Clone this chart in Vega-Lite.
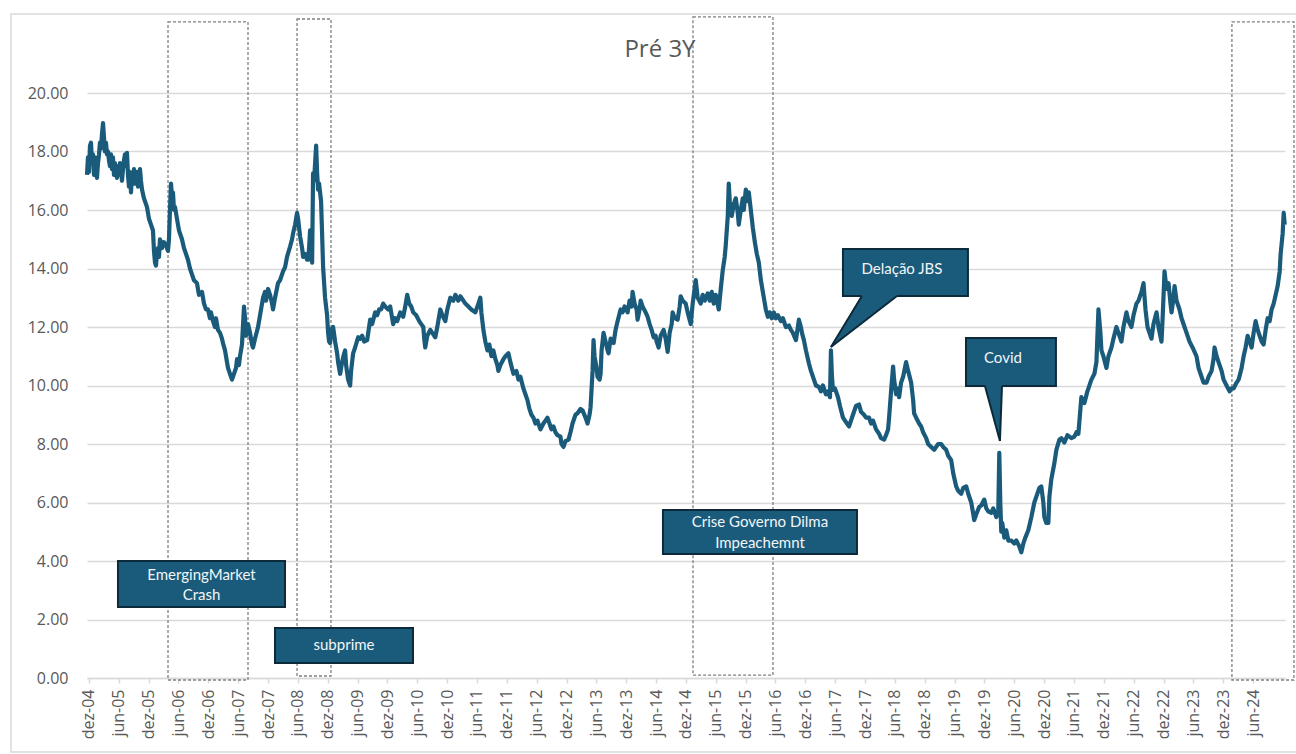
{
  "$schema": "https://vega.github.io/schema/vega-lite/v6.json",
  "width": 1198,
  "height": 585,
  "autosize": {"type": "none"},
  "padding": {"left": 87, "top": 93, "right": 11, "bottom": 76},
  "background": "white",
  "config": {"view": {"stroke": null}, "font": "Open Sans"},
  "datasets": {
    "frame": [{"t": 2003.609, "t2": 2026.5, "v": 22.7, "v2": -2.53}],
    "boxes": [
      {"t": 2006.239, "t2": 2007.579, "v": 22.43, "v2": -0.068},
      {"t": 2008.400, "t2": 2008.969, "v": 22.53, "v2": 0.068},
      {"t": 2015.033, "t2": 2016.373, "v": 22.6, "v2": 0.10},
      {"t": 2024.061, "t2": 2025.100, "v": 22.43, "v2": -0.068}
    ],
    "callouts": [
      {"t": 2005.401, "t2": 2008.199, "v": 4.0, "v2": 2.427},
      {"t": 2008.031, "t2": 2010.343, "v": 1.709, "v2": 0.513},
      {"t": 2014.530, "t2": 2017.780, "v": 5.744, "v2": 4.239},
      {"t": 2017.545, "t2": 2019.639, "v": 14.667, "v2": 13.06},
      {"t": 2019.606, "t2": 2021.113, "v": 11.624, "v2": 9.983}
    ],
    "wedgeArea": [
      {"grp": "jbs", "t": 2017.344, "v": 11.316, "v2": 11.316},
      {"grp": "jbs", "t": 2017.864, "v": 13.12, "v2": 12.135},
      {"grp": "jbs", "t": 2018.450, "v": 13.12, "v2": 13.06},
      {"grp": "cov", "t": 2019.924, "v": 10.05, "v2": 9.983},
      {"grp": "cov", "t": 2020.175, "v": 10.05, "v2": 8.103},
      {"grp": "cov", "t": 2020.209, "v": 10.05, "v2": 9.983}
    ],
    "wedgeLine": [
      {"grp": "j1", "t": 2017.864, "v": 13.06},
      {"grp": "j1", "t": 2017.344, "v": 11.316},
      {"grp": "j2", "t": 2018.450, "v": 13.06},
      {"grp": "j2", "t": 2017.344, "v": 11.316},
      {"grp": "c1", "t": 2019.924, "v": 9.983},
      {"grp": "c1", "t": 2020.175, "v": 8.103},
      {"grp": "c2", "t": 2020.209, "v": 9.983},
      {"grp": "c2", "t": 2020.175, "v": 8.103}
    ],
    "notes": [
      {"t": 2006.800, "v": 3.52, "label": "EmergingMarket"},
      {"t": 2006.800, "v": 2.84, "label": "Crash"},
      {"t": 2009.187, "v": 1.128, "label": "subprime"},
      {"t": 2016.155, "v": 5.333, "label": "Crise Governo Dilma"},
      {"t": 2016.155, "v": 4.615, "label": "Impeachemnt"},
      {"t": 2018.534, "v": 13.983, "label": "Delação JBS"},
      {"t": 2020.225, "v": 10.94, "label": "Covid"}
    ],
    "heading": [{"t": 2014.48, "v": 21.47, "label": "Pré 3Y"}],
    "series": [
      {"t": 2004.882, "v": 17.2}, {"t": 2004.898, "v": 17.8}, {"t": 2004.915, "v": 17.3}, {"t": 2004.932, "v": 18.2},
      {"t": 2004.949, "v": 18.3}, {"t": 2004.965, "v": 17.6}, {"t": 2004.982, "v": 17.9}, {"t": 2004.999, "v": 17.2},
      {"t": 2005.016, "v": 17.8}, {"t": 2005.032, "v": 17.4}, {"t": 2005.049, "v": 17.1}, {"t": 2005.066, "v": 17.6},
      {"t": 2005.083, "v": 17.9}, {"t": 2005.099, "v": 18.3}, {"t": 2005.116, "v": 18.1}, {"t": 2005.133, "v": 18.6},
      {"t": 2005.150, "v": 18.97}, {"t": 2005.166, "v": 18.5}, {"t": 2005.183, "v": 18.0}, {"t": 2005.200, "v": 18.3},
      {"t": 2005.217, "v": 17.9}, {"t": 2005.234, "v": 18.0}, {"t": 2005.250, "v": 17.7}, {"t": 2005.267, "v": 17.5},
      {"t": 2005.284, "v": 17.9}, {"t": 2005.301, "v": 17.4}, {"t": 2005.317, "v": 17.8}, {"t": 2005.334, "v": 17.2},
      {"t": 2005.351, "v": 17.6}, {"t": 2005.367, "v": 17.3}, {"t": 2005.384, "v": 17.1}, {"t": 2005.401, "v": 17.5},
      {"t": 2005.418, "v": 17.2}, {"t": 2005.434, "v": 17.6}, {"t": 2005.451, "v": 17.4}, {"t": 2005.468, "v": 17.0},
      {"t": 2005.485, "v": 17.4}, {"t": 2005.501, "v": 17.7}, {"t": 2005.518, "v": 17.9}, {"t": 2005.535, "v": 17.5},
      {"t": 2005.552, "v": 17.95}, {"t": 2005.568, "v": 17.2}, {"t": 2005.585, "v": 16.8}, {"t": 2005.602, "v": 17.3},
      {"t": 2005.619, "v": 16.6}, {"t": 2005.635, "v": 17.2}, {"t": 2005.652, "v": 17.0}, {"t": 2005.669, "v": 17.4},
      {"t": 2005.686, "v": 16.9}, {"t": 2005.702, "v": 17.1}, {"t": 2005.719, "v": 17.3}, {"t": 2005.736, "v": 16.8},
      {"t": 2005.753, "v": 17.2}, {"t": 2005.769, "v": 17.4}, {"t": 2005.786, "v": 17.0}, {"t": 2005.803, "v": 16.7},
      {"t": 2005.836, "v": 16.4}, {"t": 2005.887, "v": 16.1}, {"t": 2005.920, "v": 15.7}, {"t": 2005.954, "v": 15.5},
      {"t": 2005.987, "v": 15.3}, {"t": 2006.004, "v": 14.6}, {"t": 2006.021, "v": 14.2}, {"t": 2006.037, "v": 14.1},
      {"t": 2006.054, "v": 14.5}, {"t": 2006.071, "v": 14.7}, {"t": 2006.088, "v": 14.4}, {"t": 2006.104, "v": 15.0},
      {"t": 2006.138, "v": 14.7}, {"t": 2006.171, "v": 14.9}, {"t": 2006.205, "v": 14.8}, {"t": 2006.238, "v": 14.6},
      {"t": 2006.255, "v": 15.0}, {"t": 2006.272, "v": 16.0}, {"t": 2006.289, "v": 16.9}, {"t": 2006.305, "v": 16.5},
      {"t": 2006.322, "v": 16.6}, {"t": 2006.339, "v": 16.0}, {"t": 2006.356, "v": 16.1}, {"t": 2006.389, "v": 15.7},
      {"t": 2006.423, "v": 15.3}, {"t": 2006.473, "v": 15.0}, {"t": 2006.506, "v": 14.7}, {"t": 2006.540, "v": 14.5},
      {"t": 2006.573, "v": 14.3}, {"t": 2006.607, "v": 14.0}, {"t": 2006.640, "v": 13.8}, {"t": 2006.674, "v": 13.6},
      {"t": 2006.724, "v": 13.5}, {"t": 2006.758, "v": 13.1}, {"t": 2006.808, "v": 13.2}, {"t": 2006.842, "v": 12.8},
      {"t": 2006.875, "v": 12.6}, {"t": 2006.909, "v": 12.6}, {"t": 2006.942, "v": 12.3}, {"t": 2006.959, "v": 12.5},
      {"t": 2006.993, "v": 12.2}, {"t": 2007.026, "v": 12.0}, {"t": 2007.043, "v": 12.3}, {"t": 2007.076, "v": 11.9},
      {"t": 2007.110, "v": 11.8}, {"t": 2007.143, "v": 11.6}, {"t": 2007.160, "v": 11.45}, {"t": 2007.194, "v": 11.2},
      {"t": 2007.227, "v": 10.8}, {"t": 2007.244, "v": 10.6}, {"t": 2007.277, "v": 10.4}, {"t": 2007.311, "v": 10.2},
      {"t": 2007.344, "v": 10.4}, {"t": 2007.378, "v": 10.6}, {"t": 2007.395, "v": 10.9}, {"t": 2007.428, "v": 10.7},
      {"t": 2007.445, "v": 11.0}, {"t": 2007.478, "v": 11.4}, {"t": 2007.512, "v": 12.7}, {"t": 2007.529, "v": 12.3},
      {"t": 2007.546, "v": 11.7}, {"t": 2007.579, "v": 12.1}, {"t": 2007.613, "v": 11.8}, {"t": 2007.646, "v": 11.4},
      {"t": 2007.663, "v": 11.3}, {"t": 2007.696, "v": 11.6}, {"t": 2007.747, "v": 12.0}, {"t": 2007.780, "v": 12.4},
      {"t": 2007.831, "v": 13.0}, {"t": 2007.864, "v": 13.2}, {"t": 2007.881, "v": 12.9}, {"t": 2007.915, "v": 13.3},
      {"t": 2007.948, "v": 13.1}, {"t": 2007.982, "v": 12.8}, {"t": 2007.998, "v": 12.6}, {"t": 2008.032, "v": 13.0},
      {"t": 2008.082, "v": 13.5}, {"t": 2008.116, "v": 13.6}, {"t": 2008.166, "v": 13.9}, {"t": 2008.200, "v": 14.05},
      {"t": 2008.233, "v": 14.4}, {"t": 2008.284, "v": 14.75}, {"t": 2008.317, "v": 15.0}, {"t": 2008.334, "v": 15.2},
      {"t": 2008.368, "v": 15.5}, {"t": 2008.401, "v": 15.9}, {"t": 2008.418, "v": 15.7}, {"t": 2008.451, "v": 15.1},
      {"t": 2008.485, "v": 14.7}, {"t": 2008.502, "v": 14.4}, {"t": 2008.535, "v": 14.5}, {"t": 2008.569, "v": 14.3},
      {"t": 2008.586, "v": 14.3}, {"t": 2008.602, "v": 14.7}, {"t": 2008.619, "v": 15.3}, {"t": 2008.636, "v": 14.6},
      {"t": 2008.653, "v": 14.2}, {"t": 2008.669, "v": 17.25}, {"t": 2008.686, "v": 17.0}, {"t": 2008.703, "v": 17.6},
      {"t": 2008.720, "v": 18.2}, {"t": 2008.736, "v": 17.3}, {"t": 2008.753, "v": 16.7}, {"t": 2008.770, "v": 16.9},
      {"t": 2008.803, "v": 16.3}, {"t": 2008.820, "v": 15.2}, {"t": 2008.837, "v": 14.05}, {"t": 2008.854, "v": 13.5},
      {"t": 2008.870, "v": 13.0}, {"t": 2008.904, "v": 12.4}, {"t": 2008.921, "v": 11.8}, {"t": 2008.937, "v": 11.5},
      {"t": 2008.954, "v": 11.45}, {"t": 2008.971, "v": 11.9}, {"t": 2009.005, "v": 12.0}, {"t": 2009.038, "v": 11.5},
      {"t": 2009.072, "v": 11.1}, {"t": 2009.088, "v": 10.8}, {"t": 2009.122, "v": 10.4}, {"t": 2009.155, "v": 10.8},
      {"t": 2009.189, "v": 11.1}, {"t": 2009.206, "v": 11.2}, {"t": 2009.222, "v": 10.7}, {"t": 2009.256, "v": 10.2},
      {"t": 2009.290, "v": 10.0}, {"t": 2009.306, "v": 10.5}, {"t": 2009.340, "v": 11.1}, {"t": 2009.373, "v": 11.3},
      {"t": 2009.424, "v": 11.65}, {"t": 2009.457, "v": 11.6}, {"t": 2009.491, "v": 11.7}, {"t": 2009.524, "v": 11.5},
      {"t": 2009.575, "v": 11.55}, {"t": 2009.625, "v": 12.25}, {"t": 2009.659, "v": 12.1}, {"t": 2009.709, "v": 12.5},
      {"t": 2009.743, "v": 12.4}, {"t": 2009.776, "v": 12.6}, {"t": 2009.810, "v": 12.6}, {"t": 2009.843, "v": 12.8},
      {"t": 2009.877, "v": 12.7}, {"t": 2009.927, "v": 12.6}, {"t": 2009.961, "v": 12.7}, {"t": 2009.994, "v": 12.3},
      {"t": 2010.011, "v": 12.1}, {"t": 2010.045, "v": 12.3}, {"t": 2010.078, "v": 12.2}, {"t": 2010.129, "v": 12.5},
      {"t": 2010.179, "v": 12.35}, {"t": 2010.213, "v": 12.7}, {"t": 2010.246, "v": 13.1}, {"t": 2010.280, "v": 12.8},
      {"t": 2010.313, "v": 12.7}, {"t": 2010.347, "v": 12.5}, {"t": 2010.397, "v": 12.4}, {"t": 2010.447, "v": 12.2},
      {"t": 2010.481, "v": 12.1}, {"t": 2010.515, "v": 12.0}, {"t": 2010.531, "v": 11.6}, {"t": 2010.548, "v": 11.3},
      {"t": 2010.582, "v": 11.7}, {"t": 2010.632, "v": 11.9}, {"t": 2010.666, "v": 11.8}, {"t": 2010.716, "v": 11.65},
      {"t": 2010.750, "v": 12.0}, {"t": 2010.800, "v": 12.6}, {"t": 2010.834, "v": 12.4}, {"t": 2010.884, "v": 12.2},
      {"t": 2010.918, "v": 12.6}, {"t": 2010.968, "v": 13.0}, {"t": 2011.018, "v": 12.9}, {"t": 2011.052, "v": 13.1},
      {"t": 2011.102, "v": 12.9}, {"t": 2011.136, "v": 13.05}, {"t": 2011.186, "v": 12.9}, {"t": 2011.220, "v": 12.8},
      {"t": 2011.270, "v": 12.7}, {"t": 2011.320, "v": 12.6}, {"t": 2011.387, "v": 12.5}, {"t": 2011.438, "v": 12.8},
      {"t": 2011.471, "v": 13.0}, {"t": 2011.488, "v": 12.5}, {"t": 2011.522, "v": 11.9}, {"t": 2011.555, "v": 11.5},
      {"t": 2011.589, "v": 11.2}, {"t": 2011.622, "v": 11.4}, {"t": 2011.656, "v": 11.0}, {"t": 2011.689, "v": 11.2},
      {"t": 2011.723, "v": 10.9}, {"t": 2011.756, "v": 10.7}, {"t": 2011.773, "v": 10.5}, {"t": 2011.807, "v": 10.7},
      {"t": 2011.857, "v": 10.9}, {"t": 2011.891, "v": 11.0}, {"t": 2011.941, "v": 11.1}, {"t": 2011.974, "v": 10.8},
      {"t": 2012.025, "v": 10.4}, {"t": 2012.075, "v": 10.5}, {"t": 2012.109, "v": 10.2}, {"t": 2012.142, "v": 10.3},
      {"t": 2012.192, "v": 9.9}, {"t": 2012.226, "v": 9.7}, {"t": 2012.260, "v": 9.5}, {"t": 2012.293, "v": 9.2},
      {"t": 2012.327, "v": 9.0}, {"t": 2012.360, "v": 8.9}, {"t": 2012.394, "v": 8.7}, {"t": 2012.427, "v": 8.8},
      {"t": 2012.478, "v": 8.5}, {"t": 2012.528, "v": 8.7}, {"t": 2012.562, "v": 8.8}, {"t": 2012.595, "v": 8.9},
      {"t": 2012.629, "v": 8.7}, {"t": 2012.662, "v": 8.5}, {"t": 2012.696, "v": 8.6}, {"t": 2012.729, "v": 8.4},
      {"t": 2012.763, "v": 8.3}, {"t": 2012.813, "v": 8.25}, {"t": 2012.830, "v": 8.0}, {"t": 2012.864, "v": 7.9},
      {"t": 2012.897, "v": 8.1}, {"t": 2012.948, "v": 8.15}, {"t": 2012.981, "v": 8.4}, {"t": 2013.015, "v": 8.7},
      {"t": 2013.065, "v": 9.0}, {"t": 2013.099, "v": 9.05}, {"t": 2013.149, "v": 9.2}, {"t": 2013.183, "v": 9.15},
      {"t": 2013.233, "v": 8.9}, {"t": 2013.267, "v": 8.7}, {"t": 2013.300, "v": 9.0}, {"t": 2013.317, "v": 9.25},
      {"t": 2013.351, "v": 10.5}, {"t": 2013.367, "v": 11.55}, {"t": 2013.384, "v": 11.0}, {"t": 2013.418, "v": 10.6},
      {"t": 2013.434, "v": 10.3}, {"t": 2013.468, "v": 10.2}, {"t": 2013.485, "v": 10.4}, {"t": 2013.502, "v": 11.2},
      {"t": 2013.535, "v": 11.8}, {"t": 2013.569, "v": 11.5}, {"t": 2013.602, "v": 11.2}, {"t": 2013.619, "v": 11.1},
      {"t": 2013.653, "v": 11.6}, {"t": 2013.703, "v": 11.45}, {"t": 2013.736, "v": 11.9}, {"t": 2013.770, "v": 12.2},
      {"t": 2013.820, "v": 12.6}, {"t": 2013.854, "v": 12.5}, {"t": 2013.887, "v": 12.7}, {"t": 2013.938, "v": 12.5},
      {"t": 2013.971, "v": 12.9}, {"t": 2014.005, "v": 12.7}, {"t": 2014.021, "v": 13.2}, {"t": 2014.055, "v": 12.8},
      {"t": 2014.089, "v": 12.6}, {"t": 2014.105, "v": 12.25}, {"t": 2014.139, "v": 12.6}, {"t": 2014.156, "v": 12.9},
      {"t": 2014.189, "v": 12.7}, {"t": 2014.240, "v": 12.5}, {"t": 2014.273, "v": 12.35}, {"t": 2014.307, "v": 12.1},
      {"t": 2014.340, "v": 11.9}, {"t": 2014.374, "v": 11.65}, {"t": 2014.407, "v": 11.7}, {"t": 2014.424, "v": 11.5},
      {"t": 2014.458, "v": 11.3}, {"t": 2014.491, "v": 11.7}, {"t": 2014.541, "v": 11.9}, {"t": 2014.575, "v": 11.6},
      {"t": 2014.609, "v": 11.15}, {"t": 2014.642, "v": 11.8}, {"t": 2014.676, "v": 12.1}, {"t": 2014.692, "v": 12.5},
      {"t": 2014.726, "v": 12.3}, {"t": 2014.776, "v": 12.25}, {"t": 2014.810, "v": 12.7}, {"t": 2014.827, "v": 13.05},
      {"t": 2014.860, "v": 12.9}, {"t": 2014.911, "v": 12.8}, {"t": 2014.944, "v": 12.5}, {"t": 2014.995, "v": 12.1},
      {"t": 2015.028, "v": 12.8}, {"t": 2015.079, "v": 13.6}, {"t": 2015.112, "v": 13.0}, {"t": 2015.163, "v": 12.8},
      {"t": 2015.196, "v": 13.1}, {"t": 2015.230, "v": 12.9}, {"t": 2015.280, "v": 13.15}, {"t": 2015.314, "v": 12.9},
      {"t": 2015.347, "v": 13.2}, {"t": 2015.381, "v": 12.8}, {"t": 2015.414, "v": 13.1}, {"t": 2015.465, "v": 12.6},
      {"t": 2015.498, "v": 13.3}, {"t": 2015.532, "v": 13.95}, {"t": 2015.565, "v": 14.4}, {"t": 2015.582, "v": 14.8},
      {"t": 2015.616, "v": 15.8}, {"t": 2015.632, "v": 16.9}, {"t": 2015.649, "v": 16.3}, {"t": 2015.683, "v": 15.8},
      {"t": 2015.716, "v": 16.2}, {"t": 2015.750, "v": 16.4}, {"t": 2015.783, "v": 15.9}, {"t": 2015.800, "v": 15.5},
      {"t": 2015.834, "v": 16.0}, {"t": 2015.867, "v": 16.4}, {"t": 2015.884, "v": 16.0}, {"t": 2015.918, "v": 16.7},
      {"t": 2015.951, "v": 16.3}, {"t": 2015.968, "v": 16.6}, {"t": 2016.002, "v": 16.0}, {"t": 2016.035, "v": 15.4},
      {"t": 2016.069, "v": 14.9}, {"t": 2016.102, "v": 14.5}, {"t": 2016.136, "v": 14.2}, {"t": 2016.170, "v": 13.6},
      {"t": 2016.203, "v": 13.2}, {"t": 2016.220, "v": 13.0}, {"t": 2016.253, "v": 12.6}, {"t": 2016.287, "v": 12.35},
      {"t": 2016.321, "v": 12.5}, {"t": 2016.354, "v": 12.3}, {"t": 2016.388, "v": 12.5}, {"t": 2016.421, "v": 12.3},
      {"t": 2016.455, "v": 12.4}, {"t": 2016.505, "v": 12.2}, {"t": 2016.539, "v": 12.3}, {"t": 2016.589, "v": 12.0},
      {"t": 2016.639, "v": 12.05}, {"t": 2016.673, "v": 11.9}, {"t": 2016.707, "v": 11.8}, {"t": 2016.757, "v": 11.55},
      {"t": 2016.790, "v": 12.0}, {"t": 2016.807, "v": 12.25}, {"t": 2016.841, "v": 12.0}, {"t": 2016.858, "v": 11.8},
      {"t": 2016.891, "v": 11.55}, {"t": 2016.925, "v": 11.2}, {"t": 2016.975, "v": 10.75}, {"t": 2017.009, "v": 10.5},
      {"t": 2017.059, "v": 10.2}, {"t": 2017.093, "v": 10.0}, {"t": 2017.143, "v": 9.95}, {"t": 2017.177, "v": 9.8},
      {"t": 2017.210, "v": 10.0}, {"t": 2017.260, "v": 9.7}, {"t": 2017.294, "v": 9.8}, {"t": 2017.328, "v": 9.6},
      {"t": 2017.344, "v": 11.2}, {"t": 2017.361, "v": 10.3}, {"t": 2017.378, "v": 9.85}, {"t": 2017.411, "v": 9.9},
      {"t": 2017.462, "v": 9.6}, {"t": 2017.495, "v": 9.3}, {"t": 2017.546, "v": 8.9}, {"t": 2017.579, "v": 8.8},
      {"t": 2017.613, "v": 8.7}, {"t": 2017.646, "v": 8.6}, {"t": 2017.680, "v": 8.8}, {"t": 2017.713, "v": 9.0},
      {"t": 2017.764, "v": 9.3}, {"t": 2017.814, "v": 9.35}, {"t": 2017.848, "v": 9.1}, {"t": 2017.898, "v": 9.0},
      {"t": 2017.932, "v": 8.9}, {"t": 2017.982, "v": 8.9}, {"t": 2018.016, "v": 8.7}, {"t": 2018.049, "v": 8.8},
      {"t": 2018.100, "v": 8.5}, {"t": 2018.150, "v": 8.35}, {"t": 2018.183, "v": 8.2}, {"t": 2018.234, "v": 8.15},
      {"t": 2018.267, "v": 8.3}, {"t": 2018.301, "v": 8.5}, {"t": 2018.318, "v": 8.9}, {"t": 2018.351, "v": 9.8},
      {"t": 2018.385, "v": 10.65}, {"t": 2018.402, "v": 10.2}, {"t": 2018.435, "v": 9.7}, {"t": 2018.469, "v": 9.9},
      {"t": 2018.486, "v": 9.6}, {"t": 2018.519, "v": 10.1}, {"t": 2018.553, "v": 10.3}, {"t": 2018.603, "v": 10.8},
      {"t": 2018.637, "v": 10.5}, {"t": 2018.687, "v": 10.1}, {"t": 2018.721, "v": 9.5}, {"t": 2018.737, "v": 9.05},
      {"t": 2018.771, "v": 8.9}, {"t": 2018.821, "v": 8.7}, {"t": 2018.855, "v": 8.6}, {"t": 2018.888, "v": 8.4},
      {"t": 2018.939, "v": 8.2}, {"t": 2018.972, "v": 8.0}, {"t": 2019.023, "v": 7.9}, {"t": 2019.073, "v": 7.8},
      {"t": 2019.107, "v": 7.9}, {"t": 2019.140, "v": 8.0}, {"t": 2019.190, "v": 8.0}, {"t": 2019.224, "v": 7.9},
      {"t": 2019.274, "v": 7.8}, {"t": 2019.308, "v": 7.6}, {"t": 2019.358, "v": 7.45}, {"t": 2019.392, "v": 7.0},
      {"t": 2019.442, "v": 6.55}, {"t": 2019.476, "v": 6.4}, {"t": 2019.526, "v": 6.3}, {"t": 2019.560, "v": 6.5},
      {"t": 2019.610, "v": 6.55}, {"t": 2019.644, "v": 6.3}, {"t": 2019.694, "v": 6.0}, {"t": 2019.728, "v": 5.6},
      {"t": 2019.744, "v": 5.4}, {"t": 2019.778, "v": 5.6}, {"t": 2019.828, "v": 5.85}, {"t": 2019.862, "v": 5.9},
      {"t": 2019.912, "v": 6.1}, {"t": 2019.946, "v": 5.8}, {"t": 2019.979, "v": 5.7}, {"t": 2020.030, "v": 5.65},
      {"t": 2020.063, "v": 5.8}, {"t": 2020.114, "v": 5.5}, {"t": 2020.147, "v": 5.7}, {"t": 2020.164, "v": 7.7},
      {"t": 2020.181, "v": 6.0}, {"t": 2020.197, "v": 5.0}, {"t": 2020.214, "v": 5.3}, {"t": 2020.248, "v": 4.8},
      {"t": 2020.281, "v": 5.05}, {"t": 2020.315, "v": 4.7}, {"t": 2020.365, "v": 4.7}, {"t": 2020.415, "v": 4.6},
      {"t": 2020.449, "v": 4.7}, {"t": 2020.499, "v": 4.5}, {"t": 2020.533, "v": 4.3}, {"t": 2020.567, "v": 4.6},
      {"t": 2020.600, "v": 4.8}, {"t": 2020.650, "v": 5.05}, {"t": 2020.701, "v": 5.5}, {"t": 2020.751, "v": 6.0},
      {"t": 2020.785, "v": 6.2}, {"t": 2020.835, "v": 6.5}, {"t": 2020.868, "v": 6.55}, {"t": 2020.902, "v": 6.0},
      {"t": 2020.919, "v": 5.5}, {"t": 2020.952, "v": 5.3}, {"t": 2020.986, "v": 5.3}, {"t": 2021.003, "v": 6.2},
      {"t": 2021.036, "v": 6.8}, {"t": 2021.087, "v": 7.35}, {"t": 2021.120, "v": 7.8}, {"t": 2021.171, "v": 8.15},
      {"t": 2021.204, "v": 8.2}, {"t": 2021.254, "v": 8.05}, {"t": 2021.305, "v": 8.3}, {"t": 2021.372, "v": 8.2},
      {"t": 2021.422, "v": 8.25}, {"t": 2021.456, "v": 8.4}, {"t": 2021.489, "v": 8.35}, {"t": 2021.539, "v": 9.6},
      {"t": 2021.590, "v": 9.4}, {"t": 2021.640, "v": 9.8}, {"t": 2021.707, "v": 10.2}, {"t": 2021.757, "v": 10.4},
      {"t": 2021.791, "v": 10.8}, {"t": 2021.825, "v": 12.6}, {"t": 2021.858, "v": 11.8}, {"t": 2021.875, "v": 11.2},
      {"t": 2021.908, "v": 11.0}, {"t": 2021.959, "v": 10.6}, {"t": 2021.992, "v": 11.0}, {"t": 2022.043, "v": 11.3},
      {"t": 2022.076, "v": 11.6}, {"t": 2022.126, "v": 12.0}, {"t": 2022.160, "v": 11.8}, {"t": 2022.210, "v": 11.5},
      {"t": 2022.244, "v": 12.0}, {"t": 2022.294, "v": 12.5}, {"t": 2022.328, "v": 12.2}, {"t": 2022.378, "v": 12.0},
      {"t": 2022.412, "v": 12.4}, {"t": 2022.462, "v": 12.8}, {"t": 2022.496, "v": 12.9}, {"t": 2022.546, "v": 13.2},
      {"t": 2022.580, "v": 13.5}, {"t": 2022.613, "v": 12.6}, {"t": 2022.647, "v": 12.0}, {"t": 2022.680, "v": 11.8},
      {"t": 2022.714, "v": 11.6}, {"t": 2022.747, "v": 12.1}, {"t": 2022.798, "v": 12.5}, {"t": 2022.831, "v": 12.0},
      {"t": 2022.881, "v": 11.5}, {"t": 2022.898, "v": 12.2}, {"t": 2022.932, "v": 13.9}, {"t": 2022.965, "v": 13.3},
      {"t": 2022.999, "v": 13.5}, {"t": 2023.032, "v": 12.8}, {"t": 2023.049, "v": 12.5}, {"t": 2023.083, "v": 13.0},
      {"t": 2023.100, "v": 13.4}, {"t": 2023.133, "v": 12.9}, {"t": 2023.183, "v": 12.6}, {"t": 2023.217, "v": 12.3},
      {"t": 2023.267, "v": 12.0}, {"t": 2023.301, "v": 11.8}, {"t": 2023.351, "v": 11.5}, {"t": 2023.401, "v": 11.3},
      {"t": 2023.468, "v": 11.0}, {"t": 2023.502, "v": 10.6}, {"t": 2023.552, "v": 10.3}, {"t": 2023.586, "v": 10.1},
      {"t": 2023.636, "v": 10.1}, {"t": 2023.670, "v": 10.3}, {"t": 2023.720, "v": 10.5}, {"t": 2023.753, "v": 10.9},
      {"t": 2023.770, "v": 11.3}, {"t": 2023.804, "v": 11.0}, {"t": 2023.837, "v": 10.8}, {"t": 2023.888, "v": 10.5},
      {"t": 2023.921, "v": 10.2}, {"t": 2023.971, "v": 10.0}, {"t": 2024.022, "v": 9.8}, {"t": 2024.055, "v": 9.9},
      {"t": 2024.089, "v": 9.9}, {"t": 2024.139, "v": 10.1}, {"t": 2024.173, "v": 10.2}, {"t": 2024.223, "v": 10.6},
      {"t": 2024.257, "v": 11.0}, {"t": 2024.290, "v": 11.3}, {"t": 2024.324, "v": 11.7}, {"t": 2024.357, "v": 11.5},
      {"t": 2024.391, "v": 11.3}, {"t": 2024.424, "v": 11.8}, {"t": 2024.458, "v": 12.2}, {"t": 2024.492, "v": 11.9},
      {"t": 2024.525, "v": 11.7}, {"t": 2024.559, "v": 11.5}, {"t": 2024.592, "v": 11.4}, {"t": 2024.626, "v": 11.9},
      {"t": 2024.659, "v": 12.3}, {"t": 2024.693, "v": 12.2}, {"t": 2024.726, "v": 12.6}, {"t": 2024.760, "v": 12.8},
      {"t": 2024.794, "v": 13.1}, {"t": 2024.827, "v": 13.4}, {"t": 2024.861, "v": 13.9}, {"t": 2024.877, "v": 14.5},
      {"t": 2024.911, "v": 15.2}, {"t": 2024.928, "v": 15.9}, {"t": 2024.945, "v": 15.5}
    ]
  },
  "encoding": {
    "x": {
      "field": "t",
      "type": "quantitative",
      "scale": {"domain": [2004.882, 2024.95], "nice": false, "zero": false},
      "axis": {
        "values": [2004.915, 2005.414, 2005.915, 2006.414, 2006.915, 2007.414, 2007.915, 2008.414, 2008.915, 2009.414, 2009.915, 2010.414, 2010.915, 2011.414, 2011.915, 2012.414, 2012.915, 2013.414, 2013.915, 2014.414, 2014.915, 2015.414, 2015.915, 2016.414, 2016.915, 2017.414, 2017.915, 2018.414, 2018.915, 2019.414, 2019.915, 2020.414, 2020.915, 2021.414, 2021.915, 2022.414, 2022.915, 2023.414, 2023.915, 2024.414],
        "labelExpr": "(datum.value % 1 > 0.6 ? 'dez-' : 'jun-') + format(floor(datum.value) % 100, '02d')",
        "labelAngle": -90,
        "grid": false,
        "domainColor": "#d9d9d9",
        "domainWidth": 1.5,
        "tickColor": "#d9d9d9",
        "tickWidth": 1.5,
        "tickSize": 5,
        "labelFont": "Open Sans",
        "labelFontSize": 16,
        "labelColor": "#595959",
        "labelPadding": 6,
        "labelOverlap": false,
        "labelFlush": false,
        "title": null
      }
    },
    "y": {
      "field": "v",
      "type": "quantitative",
      "scale": {"domain": [0, 20], "nice": false, "zero": false},
      "axis": {
        "values": [0, 2, 4, 6, 8, 10, 12, 14, 16, 18, 20],
        "format": ".2f",
        "grid": true,
        "gridColor": "#d9d9d9",
        "gridWidth": 1.5,
        "domain": false,
        "ticks": false,
        "labelFont": "Open Sans",
        "labelFontSize": 16,
        "labelColor": "#595959",
        "labelPadding": 19,
        "title": null
      }
    }
  },
  "layer": [
    {
      "data": {"name": "frame"},
      "mark": {"type": "rect", "fill": "white", "fillOpacity": 0, "stroke": "#d9d9d9", "strokeWidth": 1.5, "clip": false},
      "encoding": {"x2": {"field": "t2"}, "y2": {"field": "v2"}}
    },
    {
      "data": {"name": "boxes"},
      "mark": {"type": "rect", "fill": "white", "fillOpacity": 0, "stroke": "#7f7f7f", "strokeWidth": 1.3, "strokeDash": [3, 2], "clip": false},
      "encoding": {"x2": {"field": "t2"}, "y2": {"field": "v2"}}
    },
    {
      "data": {"name": "series"},
      "mark": {"type": "line", "color": "#1a5b7b", "strokeWidth": 4.2, "strokeJoin": "round"}
    },
    {
      "data": {"name": "callouts"},
      "mark": {"type": "rect", "fill": "#1a5b7b", "stroke": "#0d2a3a", "strokeWidth": 2, "clip": false},
      "encoding": {"x2": {"field": "t2"}, "y2": {"field": "v2"}}
    },
    {
      "data": {"name": "wedgeArea"},
      "mark": {"type": "area", "color": "#1a5b7b", "opacity": 1},
      "encoding": {"y2": {"field": "v2"}, "detail": {"field": "grp"}}
    },
    {
      "data": {"name": "wedgeLine"},
      "mark": {"type": "line", "color": "#0d2a3a", "strokeWidth": 2},
      "encoding": {"detail": {"field": "grp"}}
    },
    {
      "data": {"name": "notes"},
      "mark": {"type": "text", "color": "#f2f5f8", "font": "Lato", "fontSize": 15, "align": "center", "baseline": "middle"},
      "encoding": {"text": {"field": "label"}}
    },
    {
      "data": {"name": "heading"},
      "mark": {"type": "text", "color": "#595959", "font": "Open Sans", "fontSize": 24, "align": "center", "baseline": "middle", "clip": false},
      "encoding": {"text": {"field": "label"}}
    }
  ]
}
